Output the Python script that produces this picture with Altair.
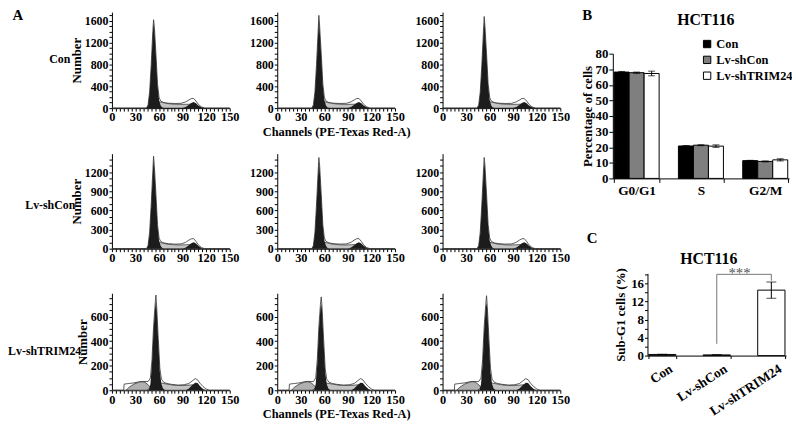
import altair as alt
import pandas as pd

FONT = "Liberation Serif"
W, H = 792, 420

# ---------------- Panel A: DNA histograms ----------------
row_names = ["Con", "Lv-shCon", "Lv-shTRIM24"]
x_title_text = "Channels (PE-Texas Red-A)"

# Row 1 (Con)
r1_tot_ch = [0, 44, 46, 48, 50, 52, 54, 56, 58, 60, 62, 66, 72, 80, 88, 94, 98, 101, 104, 107, 110, 114, 118, 150]
r1_tot = [0, 0, 60, 300, 800, 1400, 1500, 1000, 450, 200, 130, 100, 90, 85, 88, 115, 150, 175, 178, 130, 70, 22, 0, 0]
r1_tot_peak = [1620, 1700, 1680]
r1_g1_ch = [44, 46, 48, 50, 52, 54, 56, 58, 60, 62, 64, 66]
r1_g1 = [0, 50, 280, 760, 1340, 1440, 960, 420, 150, 50, 10, 0]
r1_g1_peak = [1560, 1640, 1620]
r1_s_ch = [48, 52, 56, 60, 64, 70, 78, 86, 94, 100, 104, 108, 112]
r1_s = [0, 40, 95, 115, 105, 85, 72, 68, 70, 72, 60, 25, 0]
r1_g2_ch = [90, 94, 98, 101, 104, 107, 110, 114, 118]
r1_g2 = [0, 20, 60, 95, 110, 90, 50, 15, 0]

# Row 2 (Lv-shCon)
r2_tot_ch = r1_tot_ch
r2_tot = [0, 0, 50, 260, 700, 1200, 1300, 860, 380, 170, 115, 90, 78, 72, 75, 100, 135, 155, 158, 115, 60, 18, 0, 0]
r2_tot_peak = [1450, 1430, 1430]
r2_g1_ch = r1_g1_ch
r2_g1 = [0, 45, 240, 660, 1150, 1250, 820, 360, 130, 45, 10, 0]
r2_g1_peak = [1390, 1370, 1370]
r2_s_ch = r1_s_ch
r2_s = [0, 35, 85, 100, 90, 72, 62, 58, 62, 65, 55, 22, 0]
r2_g2_ch = r1_g2_ch
r2_g2 = [0, 18, 55, 85, 100, 80, 45, 12, 0]

# Row 3 (Lv-shTRIM24)
r3_tot_ch = [0, 15, 15.5, 22, 28, 34, 40, 46, 49, 51, 53, 55, 57, 59, 61, 63, 66, 70, 76, 84, 92, 98, 102, 106, 109, 112, 116, 120, 124, 150]
r3_tot = [0, 0, 50, 55, 60, 68, 72, 70, 100, 250, 520, 700, 680, 420, 180, 90, 65, 55, 48, 42, 45, 55, 75, 95, 85, 58, 30, 10, 0, 0]
r3_tot_peak = [775, 760, 770]
r3_g1_ch = [47, 49, 51, 53, 55, 57, 59, 61, 63, 65, 68]
r3_g1 = [0, 50, 220, 490, 670, 650, 390, 150, 50, 15, 0]
r3_g1_peak = [720, 705, 715]
r3_s_ch = [45, 50, 56, 62, 70, 80, 90, 98, 104, 108, 112, 116]
r3_s = [0, 30, 55, 60, 50, 40, 38, 42, 45, 35, 15, 0]
r3_g2_ch = [94, 98, 102, 106, 109, 112, 116, 120]
r3_g2 = [0, 15, 40, 62, 58, 35, 10, 0]
r3_sub_ch = [18, 22, 28, 34, 38, 42, 46, 50, 52]
r3_sub = [0, 25, 50, 65, 70, 65, 45, 15, 0]

rows = [
    dict(tot_ch=r1_tot_ch, tot=r1_tot, tot_peak=r1_tot_peak, peak_ch=53,
         g1_ch=r1_g1_ch, g1=r1_g1, g1_peak=r1_g1_peak,
         s_ch=r1_s_ch, s=r1_s, g2_ch=r1_g2_ch, g2=r1_g2, sub_ch=None, sub=None,
         ymax=1760, yticks=list(range(0, 1701, 100)), ylab=400),
    dict(tot_ch=r2_tot_ch, tot=r2_tot, tot_peak=r2_tot_peak, peak_ch=53,
         g1_ch=r2_g1_ch, g1=r2_g1, g1_peak=r2_g1_peak,
         s_ch=r2_s_ch, s=r2_s, g2_ch=r2_g2_ch, g2=r2_g2, sub_ch=None, sub=None,
         ymax=1490, yticks=list(range(0, 1401, 100)), ylab=300),
    dict(tot_ch=r3_tot_ch, tot=r3_tot, tot_peak=r3_tot_peak, peak_ch=56,
         g1_ch=r3_g1_ch, g1=r3_g1, g1_peak=r3_g1_peak,
         s_ch=r3_s_ch, s=r3_s, g2_ch=r3_g2_ch, g2=r3_g2, sub_ch=r3_sub_ch, sub=r3_sub,
         ymax=790, yticks=list(range(0, 751, 50)), ylab=200),
]

# layout (pixels inside the chart)
col_x = [(105, 224), (272, 391), (439, 558)]
row_y = [(99, 2), (241, 145), (384, 286)]
row_label_pos = [(63, 49), (68, 197), (74, 344)]
x_ticks = list(range(0, 151, 5))


def with_peak(ch, v, pch, pv):
    pts = sorted(list(zip(ch, v)) + [(pch, pv)])
    return pd.DataFrame({"ch": [p[0] for p in pts], "v": [p[1] for p in pts]})


def label(text, x, y, size=13, align="center", baseline="alphabetic", color="black", weight="bold"):
    return alt.Chart(pd.DataFrame({"t": [text]})).mark_text(
        align=align, baseline=baseline, font=FONT, fontWeight=weight, fontSize=size, color=color
    ).encode(text="t:N", x=alt.value(x), y=alt.value(y))


def hist_panel(r, c):
    spec = rows[r]
    xs = alt.Scale(domain=[0, 150], nice=False, range=list(col_x[c]))
    ys = alt.Scale(domain=[0, spec["ymax"]], nice=False, range=list(row_y[r]))
    xtitle = x_title_text if (c == 1 and r != 1) else ""
    ytitle = "Number" if c == 0 else ""
    xaxis = alt.Axis(values=x_ticks, labelExpr="datum.value % 30 == 0 ? datum.label : ''",
                     title=xtitle, labelFlush=False, tickSize=3, labelPadding=0, orient="bottom",
                     offset=row_y[r][0] - H, labelFontSize=12.5, titleFontSize=12.5, titlePadding=2)
    yaxis = alt.Axis(values=spec["yticks"],
                     labelExpr="datum.value %% %d == 0 ? datum.label : ''" % spec["ylab"],
                     title=ytitle, tickSize=3, labelPadding=1, labelFontSize=12, orient="left",
                     offset=-col_x[c][0], titleFontSize=13, titlePadding=1, format="d")

    def area(df, fill, stroke=None, sw=0):
        kw = dict(fill=fill, interpolate="linear")
        if stroke:
            kw.update(stroke=stroke, strokeWidth=sw)
        return alt.Chart(df).mark_area(**kw).encode(
            x=alt.X("ch:Q", scale=xs, axis=xaxis),
            y=alt.Y("v:Q", scale=ys, axis=yaxis),
        )

    layers = [area(with_peak(spec["tot_ch"], spec["tot"], spec["peak_ch"], spec["tot_peak"][c]),
                   "#ffffff", "#333333", 0.8)]
    if spec["sub_ch"] is not None:
        layers.append(area(pd.DataFrame({"ch": spec["sub_ch"], "v": spec["sub"]}), "#b0b0b0", "#222222", 0.7))
    layers.append(area(pd.DataFrame({"ch": spec["s_ch"], "v": spec["s"]}), "#c4c4c4", "#111111", 0.6))
    layers.append(area(with_peak(spec["g1_ch"], spec["g1"], spec["peak_ch"], spec["g1_peak"][c]), "#1c1c1c"))
    layers.append(area(pd.DataFrame({"ch": spec["g2_ch"], "v": spec["g2"]}), "#1c1c1c"))
    return alt.layer(*layers)


hist_panels = [hist_panel(r, c) for r in range(3) for c in range(3)]

# ---------------- Panel B: cell cycle distribution ----------------
phases = ["G0/G1", "S", "G2/M"]
groups = ["Con", "Lv-shCon", "Lv-shTRIM24"]
b_con = [68.2, 20.8, 11.4]
b_con_err = [0.4, 0.3, 0.2]
b_shcon = [67.8, 21.3, 10.9]
b_shcon_err = [0.4, 0.3, 0.3]
b_shtrim = [67.3, 20.7, 11.9]
b_shtrim_err = [1.5, 0.8, 0.7]

b_rows = []
for g, vals, errs in zip(groups, [b_con, b_shcon, b_shtrim], [b_con_err, b_shcon_err, b_shtrim_err]):
    for p, v, e in zip(phases, vals, errs):
        b_rows.append({"phase": p, "grp": g, "val": v, "lo": v - e, "hi": v + e})
b_df = pd.DataFrame(b_rows)

B_X = (611, 789)
B_Y = (170, 44)
bx = alt.X("phase:N", sort=phases,
           scale=alt.Scale(paddingInner=0.3, paddingOuter=0.02, range=list(B_X)),
           axis=alt.Axis(title="", labelAngle=0, tickBand="extent", tickSize=4, labelPadding=1,
                         labelFontSize=13.5, orient="bottom", offset=B_Y[0] - H))
bxo = alt.XOffset("grp:N", sort=groups, scale=alt.Scale(paddingInner=0, paddingOuter=0))
by_scale = alt.Scale(domain=[0, 80], nice=False, range=list(B_Y))
by_axis = alt.Axis(values=list(range(0, 81, 10)), title="Percentage of cells", tickSize=4,
                   labelPadding=1, labelFontSize=13, titleFontSize=13, titlePadding=1,
                   orient="left", offset=-B_X[0])

b_bars = alt.Chart(b_df).mark_bar(stroke="black", strokeWidth=1).encode(
    x=bx, xOffset=bxo,
    y=alt.Y("val:Q", scale=by_scale, axis=by_axis),
    fill=alt.Fill("grp:N", sort=groups,
                  scale=alt.Scale(domain=groups, range=["#000000", "#7f7f7f", "#ffffff"]),
                  legend=alt.Legend(title=None, orient="none", legendX=700, legendY=28,
                                    symbolType="square", symbolSize=55, symbolStrokeColor="black",
                                    symbolStrokeWidth=1, labelFont=FONT, labelFontWeight="bold",
                                    labelFontSize=12.5, rowPadding=3, labelOffset=3, padding=0)),
)
b_err = alt.Chart(b_df).mark_rule(color="black", strokeWidth=1).encode(
    x=bx, xOffset=bxo, y=alt.Y("lo:Q", scale=by_scale, axis=by_axis), y2="hi:Q")
b_cap_lo = alt.Chart(b_df).mark_tick(color="black", thickness=1, size=7, orient="horizontal").encode(
    x=bx, xOffset=bxo, y=alt.Y("lo:Q", scale=by_scale, axis=by_axis))
b_cap_hi = alt.Chart(b_df).mark_tick(color="black", thickness=1, size=7, orient="horizontal").encode(
    x=bx, xOffset=bxo, y=alt.Y("hi:Q", scale=by_scale, axis=by_axis))
B = alt.layer(b_bars, b_err, b_cap_lo, b_cap_hi)

# ---------------- Panel C: sub-G1 ----------------
c_groups = ["Con", "Lv-shCon", "Lv-shTRIM24"]
c_vals = [0.25, 0.15, 14.5]
c_errs = [0.05, 0.03, 1.8]
c_df = pd.DataFrame({"grp": c_groups, "val": c_vals,
                     "lo": [v - e for v, e in zip(c_vals, c_errs)],
                     "hi": [v + e for v, e in zip(c_vals, c_errs)]})
sig_x = ["Lv-shCon", "Lv-shCon", "Lv-shTRIM24", "Lv-shTRIM24"]
sig_y = [2.6, 18.0, 18.0, 16.6]
sig_df = pd.DataFrame({"grp": sig_x, "y": sig_y, "o": [0, 1, 2, 3]})

C_X = (646, 786)
C_Y = (349, 266)
cx = alt.X("grp:N", sort=c_groups,
           scale=alt.Scale(paddingInner=0.5, paddingOuter=0.02, range=list(C_X)),
           axis=alt.Axis(title="", labelAngle=327, labelAlign="right", labelBaseline="top",
                         tickBand="extent", tickSize=3, labelPadding=3, labelOffset=5,
                         labelFontSize=13.5, orient="bottom", offset=C_Y[0] - H))
cy_scale = alt.Scale(domain=[0, 18.2], nice=False, range=list(C_Y))
cy_axis = alt.Axis(values=list(range(0, 19, 2)), labelExpr="datum.value % 4 == 0 ? datum.label : ''",
                   title="Sub-G1 cells (%)", tickSize=3, labelPadding=1, labelFontSize=13,
                   titleFontSize=13, titlePadding=3, orient="left", offset=-C_X[0])
c_bars = alt.Chart(c_df).mark_bar(fill="white", stroke="black", strokeWidth=1).encode(
    x=cx, y=alt.Y("val:Q", scale=cy_scale, axis=cy_axis))
c_err = alt.Chart(c_df).mark_rule(color="black", strokeWidth=1).encode(
    x=cx, y=alt.Y("lo:Q", scale=cy_scale, axis=cy_axis), y2="hi:Q")
c_cap_lo = alt.Chart(c_df).mark_tick(color="black", thickness=1, size=10, orient="horizontal").encode(
    x=cx, y=alt.Y("lo:Q", scale=cy_scale, axis=cy_axis))
c_cap_hi = alt.Chart(c_df).mark_tick(color="black", thickness=1, size=10, orient="horizontal").encode(
    x=cx, y=alt.Y("hi:Q", scale=cy_scale, axis=cy_axis))
c_sig = alt.Chart(sig_df).mark_line(color="#666666", strokeWidth=0.9).encode(
    x=cx, y=alt.Y("y:Q", scale=cy_scale, axis=cy_axis), order="o:Q")
C = alt.layer(c_bars, c_err, c_cap_lo, c_cap_hi, c_sig)

# ---------------- text annotations ----------------
texts = [
    label("A", 10, 10, size=15),
    label("B", 585, 10, size=15),
    label("C", 590, 235, size=15),
    label("HCT116", 705, 15, size=16),
    label("HCT116", 708, 256, size=16),
    label("***", 739, 271, size=15, color="#555555", weight="normal"),
]
for i, name in enumerate(row_names):
    lx, ly = row_label_pos[i]
    texts.append(label(name, lx, ly, size=12, align="right", baseline="middle"))

chart = alt.layer(*hist_panels, B, C, *texts).resolve_scale(
    x="independent", y="independent"
).properties(
    width=W, height=H, autosize=alt.AutoSizeParams(type="none"), padding=0
).configure_view(strokeWidth=0).configure_axis(
    grid=False, labelFont=FONT, titleFont=FONT, labelFontWeight="bold", titleFontWeight="bold",
    labelColor="black", titleColor="black", domainColor="black", tickColor="black",
    domainWidth=1, tickWidth=1,
).configure_text(font=FONT)

chart.save("out.html", embed_options={"renderer": "svg", "actions": False})
